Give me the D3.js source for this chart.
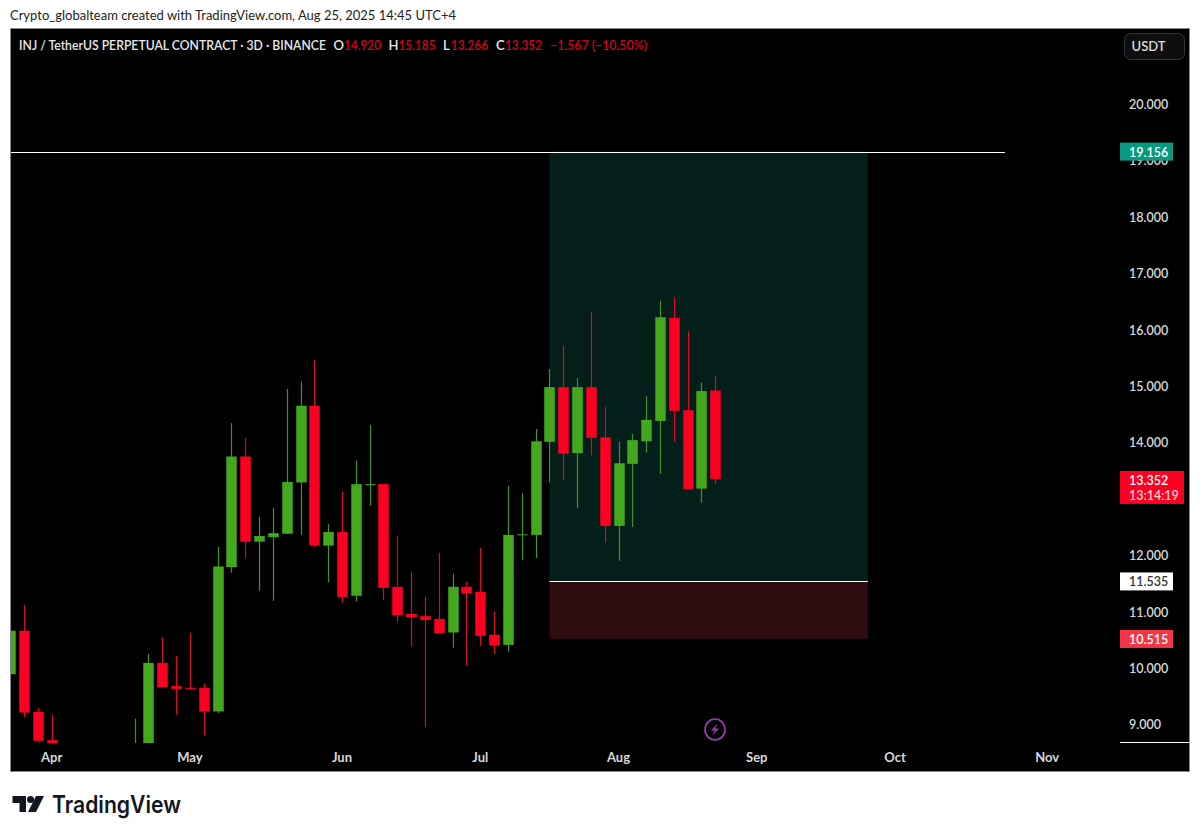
<!DOCTYPE html>
<html><head><meta charset="utf-8">
<script src="https://cdn.jsdelivr.net/npm/d3@7"></script>
<style>html,body{margin:0;padding:0;background:#fff}svg{display:block}text{font-family:"Lato","Open Sans",sans-serif}</style>
</head><body><svg id="c" width="1200" height="837"></svg>
<script>
// k = -1 ... 50 (3-day candles). null = below the visible price range, not readable.
const firstIndex = -1;
const opens  = [9.89,10.66,9.22,8.72,null,null,null,null,null,8.40,8.60,10.09,9.68,9.65,9.65,9.23,11.79,13.75,12.24,12.32,12.38,13.29,14.65,12.17,12.41,11.28,13.25,13.26,11.44,10.96,10.92,10.87,10.63,11.44,11.35,10.59,10.41,12.36,12.36,14.01,14.98,13.81,14.98,14.09,12.52,13.62,14.02,14.38,16.21,14.57,13.18,14.920];
const highs  = [10.80,11.12,9.29,9.17,null,null,null,null,null,9.10,10.25,10.54,10.21,10.63,9.73,12.15,14.34,14.08,12.68,12.84,14.95,15.08,15.46,12.55,13.13,13.68,14.31,13.26,12.35,11.71,11.26,12.04,11.67,11.53,12.13,11.01,13.23,13.10,14.24,15.30,15.71,15.14,16.32,14.63,14.01,14.15,14.82,16.51,16.58,15.97,15.06,15.185];
const lows   = [9.80,9.13,8.68,8.60,null,null,null,null,null,8.30,8.50,9.66,9.17,9.61,8.81,9.20,11.69,11.95,11.37,11.19,12.38,12.36,12.15,11.52,11.16,11.18,12.88,11.21,10.82,10.38,8.96,10.62,10.36,10.04,10.39,10.25,10.29,11.91,11.95,13.29,13.33,12.83,13.77,12.22,11.90,12.50,13.82,13.44,14.01,13.17,12.93,13.266];
const closes = [10.66,9.21,8.71,8.65,null,null,null,null,null,8.60,10.09,9.66,9.63,9.63,9.23,11.80,13.75,12.24,12.34,12.39,13.30,14.65,12.17,12.41,11.26,13.26,13.26,11.42,10.94,10.90,10.85,10.62,11.44,11.32,10.57,10.40,12.36,12.37,14.02,14.98,13.80,14.98,14.08,12.52,13.63,14.04,14.40,16.22,14.56,13.17,14.91,13.352];
const priceTicks = [9,10,11,12,13,14,15,16,17,18,19,20];
const hiddenTicks = [13];
const monthLabels = ["Apr","May","Jun","Jul","Aug","Sep","Oct","Nov"];
const monthIndex  = [2,12,23,33,43,53,63,74];
const targetPrice = 19.156, entryPrice = 11.535, stopPrice = 10.515, lastPrice = 13.352;
const zoneStart = 38, zoneEnd = 61.03;
const countdown = "13:14:19";
const titleText = "Crypto_globalteam created with TradingView.com, Aug 25, 2025 14:45 UTC+4";
const symbolText = "INJ / TetherUS PERPETUAL CONTRACT \u00b7 3D \u00b7 BINANCE";
const ohlcLetters = ["O","H","L","C"];
const ohlcValues = ["14.920","15.185","13.266","13.352"];
const changeText = "\u22121.567 (\u221210.50%)";

const svg = d3.select("#c");
const x = d3.scaleLinear().domain([0,50]).range([24,715.3]);
const y = d3.scaleLinear().domain([20,9]).range([104,724.4]);
const UP="#43a81d", DOWN="#fb0020", UPW="#3f9426", DOWNW="#d80c26", TXT="#d9d9d9";

svg.append("rect").attr("x",10.5).attr("y",28.5).attr("width",1179).attr("height",743)
  .attr("fill","#000").attr("stroke","#8a8a8a");
svg.append("defs").append("clipPath").attr("id","pane").append("rect")
  .attr("x",11).attr("y",29).attr("width",1178).attr("height",714);

const pane = svg.append("g").attr("clip-path","url(#pane)");
pane.append("rect").attr("x",x(zoneStart)).attr("width",x(zoneEnd)-x(zoneStart))
  .attr("y",y(targetPrice)).attr("height",y(entryPrice)-y(targetPrice)).attr("fill","#041e19");
pane.append("rect").attr("x",x(zoneStart)).attr("width",x(zoneEnd)-x(zoneStart))
  .attr("y",y(entryPrice)).attr("height",y(stopPrice)-y(entryPrice)).attr("fill","#2f0c10");

const candles = opens.map((o,i)=>({k:i+firstIndex,o,h:highs[i],l:lows[i],c:closes[i]})).filter(d=>d.o!==null);
const g = pane.selectAll("g.c").data(candles).join("g").attr("class","c");
g.append("line").attr("x1",d=>Math.round(x(d.k))+.5).attr("x2",d=>Math.round(x(d.k))+.5)
  .attr("y1",d=>y(d.h)).attr("y2",d=>y(d.l))
  .attr("stroke",d=>d.c>=d.o?UPW:DOWNW).attr("stroke-width",1.2);
g.append("rect").attr("x",d=>Math.round(x(d.k))+.5-5.25).attr("width",10.5)
  .attr("y",d=>y(Math.max(d.o,d.c)))
  .attr("height",d=>Math.max(1,Math.abs(y(d.o)-y(d.c))))
  .attr("fill",d=>d.c>=d.o?UP:DOWN);

// horizontal drawings
svg.append("line").attr("x1",11).attr("x2",1005).attr("y1",Math.round(y(targetPrice))+.5).attr("y2",Math.round(y(targetPrice))+.5).attr("stroke","#fff");
svg.append("line").attr("x1",x(zoneStart)).attr("x2",x(zoneEnd)).attr("y1",Math.round(y(entryPrice))+.5).attr("y2",Math.round(y(entryPrice))+.5).attr("stroke","#fff");
svg.append("line").attr("x1",1120).attr("x2",1189).attr("y1",742.5).attr("y2",742.5).attr("stroke","#fff");

// axes
const py = svg.append("g").attr("transform","translate(1120,0.5)")
  .call(d3.axisRight(y).tickValues(priceTicks.filter(t=>!hiddenTicks.includes(t))).tickFormat(d3.format(".3f")).tickSize(0).tickPadding(9));
py.select(".domain").remove();
py.selectAll("text").attr("fill",TXT).attr("font-size",12.5).attr("font-weight",600);
const tx = svg.append("g").attr("transform","translate(-0.5,753)")
  .call(d3.axisBottom(x).tickValues(monthIndex).tickFormat((d,i)=>monthLabels[i]).tickSize(0).tickPadding(0));
tx.select(".domain").remove();
tx.selectAll("text").attr("fill",TXT).attr("font-size",13).attr("font-weight",700);

// price tags
function tag(p,w,fill,color,h){
  const c=y(p);
  svg.append("rect").attr("x",1120).attr("y",c-9).attr("width",w).attr("height",h||18).attr("fill",fill);
  svg.append("text").attr("x",1129).attr("y",c+5).attr("fill",color).attr("font-size",12.5).attr("font-weight",600).text(d3.format(".3f")(p));
}
tag(targetPrice,53,"#089981","#fff");
tag(entryPrice,53,"#fff","#333");
tag(stopPrice,53,"#f23645","#fff");
const ly=y(lastPrice);
svg.append("rect").attr("x",1120).attr("y",ly-8).attr("width",64).attr("height",33).attr("fill","#fb0020");
svg.append("text").attr("x",1129).attr("y",ly+6).attr("fill","#fff").attr("font-size",12.5).attr("font-weight",600).text(d3.format(".3f")(lastPrice));
svg.append("text").attr("x",1129).attr("y",ly+21).attr("fill","#ffd0d6").attr("font-size",12.5).attr("font-weight",600).text(countdown);

// USDT button
svg.append("rect").attr("x",1124.5).attr("y",33.5).attr("width",60).attr("height",26).attr("rx",6).attr("fill","#0e0e0e").attr("stroke","#33353c");
svg.append("text").attr("x",1148.5).attr("y",51).attr("text-anchor","middle").attr("fill",TXT).attr("font-size",13).attr("font-weight",600).text("USDT");

// header
svg.append("text").attr("x",10).attr("y",20).attr("fill","#222").attr("font-size",13).attr("textLength",446).attr("lengthAdjust","spacingAndGlyphs").text(titleText);
svg.append("text").attr("x",19).attr("y",50).attr("fill","#e8e8e8").attr("font-size",12.5).attr("font-weight",600).attr("textLength",307).attr("lengthAdjust","spacingAndGlyphs").text(symbolText);
const letterX=[333.5,388.5,443,496];
ohlcLetters.forEach((l,i)=>{
  svg.append("text").attr("x",letterX[i]).attr("y",50).attr("fill","#e8e8e8").attr("font-size",13).attr("font-weight",600).text(l);
  svg.append("text").attr("x",[344,398.5,451,505][i]).attr("y",50).attr("fill","#d8001c").attr("font-size",13).attr("font-weight",600).attr("textLength",37).attr("lengthAdjust","spacingAndGlyphs").text(ohlcValues[i]);
});
svg.append("text").attr("x",550).attr("y",50).attr("fill","#d8001c").attr("font-size",13).attr("font-weight",600).attr("textLength",97).attr("lengthAdjust","spacingAndGlyphs").text(changeText);

// lightning icon
svg.append("ellipse").attr("cx",715).attr("cy",729.5).attr("rx",10).attr("ry",10.5).attr("fill","none").attr("stroke","#9c3fb5").attr("stroke-width",1.6);
svg.append("path").attr("d","M718 723 L711 730.5 L715 730.5 L712 736 L719 728.5 L715 728.5 Z").attr("fill","#9c3fb5");

// TradingView logo
const logo=svg.append("g").attr("fill","#131722");
logo.append("path").attr("d","M12.5 796 H26 V812 H19.5 V803 H12.5 Z");
logo.append("circle").attr("cx",30.5).attr("cy",799.5).attr("r",3.5);
logo.append("path").attr("d","M36 796 H44 L36 812 H28 Z");
svg.append("text").attr("x",52).attr("y",813).attr("fill","#131722").attr("font-size",24).attr("font-weight",600)
  .style("font-family","Inter").attr("textLength",129).attr("lengthAdjust","spacingAndGlyphs").text("TradingView");
</script></body></html>
